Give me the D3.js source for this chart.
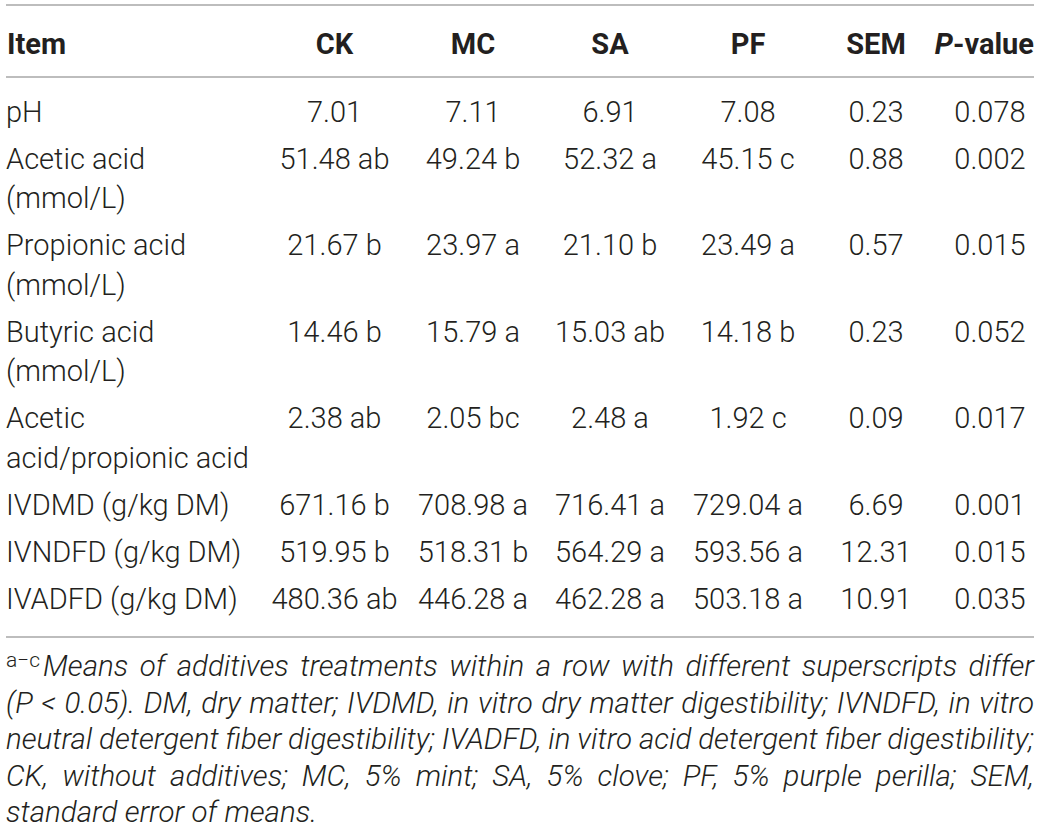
<!DOCTYPE html>
<html>
<head>
<meta charset="utf-8">
<script src="https://cdn.jsdelivr.net/npm/d3@7"></script>
<style>
  html, body { margin: 0; padding: 0; background: #fff; }
  svg { display: block; }
</style>
</head>
<body>
<svg id="chart" width="1041" height="833"></svg>
<script>
// ---------- data ----------
const columns = ["CK", "MC", "SA", "PF", "SEM", "P-value"];
const items = [
  ["pH"],
  ["Acetic acid", "(mmol/L)"],
  ["Propionic acid", "(mmol/L)"],
  ["Butyric acid", "(mmol/L)"],
  ["Acetic", "acid/propionic acid"],
  ["IVDMD (g/kg DM)"],
  ["IVNDFD (g/kg DM)"],
  ["IVADFD (g/kg DM)"]
];
const CK = [7.01, 51.48, 21.67, 14.46, 2.38, 671.16, 519.95, 480.36];
const CKsig = ["", "ab", "b", "b", "ab", "b", "b", "ab"];
const MC = [7.11, 49.24, 23.97, 15.79, 2.05, 708.98, 518.31, 446.28];
const MCsig = ["", "b", "a", "a", "bc", "a", "b", "a"];
const SA = [6.91, 52.32, 21.10, 15.03, 2.48, 716.41, 564.29, 462.28];
const SAsig = ["", "a", "b", "ab", "a", "a", "a", "a"];
const PF = [7.08, 45.15, 23.49, 14.18, 1.92, 729.04, 593.56, 503.18];
const PFsig = ["", "c", "a", "b", "c", "a", "a", "a"];
const SEM = [0.23, 0.88, 0.57, 0.23, 0.09, 6.69, 12.31, 10.91];
const Pvalue = [0.078, 0.002, 0.015, 0.052, 0.017, 0.001, 0.015, 0.035];
const footnoteSup = "a\u2212c";
const footnoteLines = [
  "Means of additives treatments within a row with different superscripts differ",
  "(P < 0.05). DM, dry matter; IVDMD, in vitro dry matter digestibility; IVNDFD, in vitro",
  "neutral detergent fiber digestibility; IVADFD, in vitro acid detergent fiber digestibility;",
  "CK, without additives; MC, 5% mint; SA, 5% clove; PF, 5% purple perilla; SEM,",
  "standard error of means."
];

// ---------- build table ----------
const fmt2 = d3.format(".2f"), fmt3 = d3.format(".3f");
const cell = (v, s) => fmt2(v) + (s ? " " + s : "");
const rows = items.map((it, i) => ({
  item: it,
  cells: [cell(CK[i], CKsig[i]), cell(MC[i], MCsig[i]), cell(SA[i], SAsig[i]),
          cell(PF[i], PFsig[i]), fmt2(SEM[i]), fmt3(Pvalue[i])]
}));

// ---------- layout ----------
const FONT = "'Roboto', 'Liberation Sans', Arial, sans-serif";
const TEXT = "#231f20";
const RULE = "#a7a7a7";
const fs = 29;
const left = 6, right = 1034;

const svg = d3.select("#chart");

// column centres via scale on cumulative column widths
const colWidths = [139, 138, 136, 140, 116, 112];
const edges = d3.cumsum([265].concat(colWidths));
const xCol = d3.scaleOrdinal().domain(columns)
  .range(columns.map((c, i) => (edges[i] + edges[i + 1]) / 2));

// row y positions
const firstBase = 121.5, rowStep = 47, lineStep = 39.5;
let yb = firstBase;
rows.forEach(r => { r.y = yb; yb += rowStep + (r.item.length - 1) * lineStep; });

// rules
const rules = [5, 77, 637];
svg.selectAll("line.rule").data(rules).join("line")
  .attr("class", "rule")
  .attr("x1", left).attr("x2", right)
  .attr("y1", d => d).attr("y2", d => d)
  .attr("stroke", RULE).attr("stroke-width", 1.6);

// header
const hdr = svg.append("g").attr("font-family", FONT).attr("font-weight", 700)
  .attr("font-size", fs).attr("fill", TEXT);
hdr.append("text").attr("x", left + 1).attr("y", 53.5).text("Item");
hdr.selectAll("text.col").data(columns).join("text")
  .attr("class", "col")
  .attr("x", d => d === "P-value" ? right : xCol(d)).attr("y", 53.5)
  .attr("text-anchor", d => d === "P-value" ? "end" : "middle")
  .each(function (d) {
    const t = d3.select(this);
    if (d === "P-value") {
      t.append("tspan").attr("font-style", "italic").text("P");
      t.append("tspan").text("-value");
    } else t.text(d);
  });

// body
const body = svg.append("g").attr("font-family", FONT).attr("font-weight", 300)
  .attr("font-size", fs).attr("fill", TEXT);
const rg = body.selectAll("g.row").data(rows).join("g").attr("class", "row");
rg.selectAll("text.item").data(d => d.item.map((t, k) => ({ t, y: d.y + k * lineStep })))
  .join("text").attr("class", "item")
  .attr("x", left).attr("y", d => d.y).text(d => d.t);
rg.selectAll("text.val").data(d => d.cells.map((t, k) => ({ t, col: columns[k], y: d.y })))
  .join("text").attr("class", "val")
  .attr("x", d => xCol(d.col)).attr("y", d => d.y)
  .attr("text-anchor", "middle").text(d => d.t);

// footnote (justified)
const fn = svg.append("g").attr("font-family", FONT).attr("font-weight", 300)
  .attr("fill", TEXT);
const fnSize = 29.5, fnBase = 676, fnStep = 36.5;
const sup = fn.append("text").attr("x", left).attr("y", fnBase - 9)
  .attr("font-size", 21).text(footnoteSup);
const supW = sup.node().getComputedTextLength() + 3;

footnoteLines.forEach((line, li) => {
  const words = line.split(" ");
  const y = fnBase + li * fnStep;
  const x0 = li === 0 ? left + supW : left;
  const g = fn.append("g").attr("font-size", fnSize).attr("font-style", "italic");
  const nodes = words.map(w => g.append("text").attr("y", y).text(w));
  const widths = nodes.map(n => n.node().getComputedTextLength());
  const total = d3.sum(widths);
  const justify = li < footnoteLines.length - 1;
  const spaceW = fnSize * 0.25;
  const gap = justify ? (right - x0 - total) / (words.length - 1) : spaceW;
  let x = x0;
  nodes.forEach((n, k) => { n.attr("x", x); x += widths[k] + gap; });
});
</script>
</body>
</html>
